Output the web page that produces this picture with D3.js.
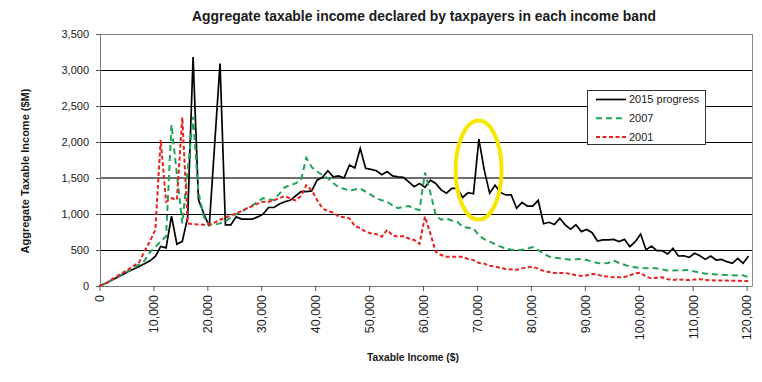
<!DOCTYPE html>
<html><head><meta charset="utf-8">
<script src="https://cdn.jsdelivr.net/npm/d3@7"></script>
<style>
body{margin:0;background:#fff}
text{font-family:"Liberation Sans",Arial,sans-serif;fill:#1a1a1a}
</style>
</head><body>
<svg id="c" width="762" height="382"></svg>
<script>
// ---- data (values in $M, one point per $1,000 income band) ----
const bandOffset = 350; // points sit slightly inside each band
const incomes = d3.range(0, 121).map(i => i === 0 ? 0 : i * 1000 + bandOffset);
const series2015 = [0,45,85,120,160,200,235,270,310,350,
  410,550,530,970,580,620,950,3180,1200,1000,
  830,1960,3090,850,850,960,930,930,930,960,
  1000,1090,1090,1140,1170,1190,1250,1310,1310,1320,
  1470,1510,1600,1515,1530,1500,1680,1640,1910,1635,
  1620,1600,1545,1590,1530,1515,1510,1445,1380,1425,
  1370,1470,1425,1335,1290,1355,1355,1230,1295,1280,
  2040,1610,1290,1400,1300,1265,1265,1080,1160,1110,
  1110,1190,865,885,855,940,850,790,850,755,
  785,740,625,640,640,648,616,648,546,616,
  722,500,555,491,490,444,523,417,420,398,
  454,420,370,417,361,370,338,315,384,315,417];
const series2007 = [0,40,90,130,170,210,250,300,350,470,
  540,620,690,2240,1550,870,1600,2350,1300,960,
  850,850,870,900,950,1000,1030,1080,1120,1170,
  1220,1200,1195,1280,1370,1400,1425,1470,1780,1650,
  1590,1540,1495,1430,1370,1350,1325,1340,1355,1310,
  1265,1220,1190,1170,1120,1080,1100,1110,1070,1055,
  1575,1300,985,920,935,910,893,820,810,800,
  700,650,616,580,546,520,505,500,505,520,
  540,500,450,410,395,384,375,365,370,375,
  360,340,320,315,320,355,320,295,270,260,
  250,245,245,245,230,215,215,218,220,222,
  200,185,170,167,160,155,153,150,145,150,120];
const series2001 = [0,45,95,140,185,230,280,330,480,620,
  780,2030,1170,1220,1200,2340,870,860,855,850,
  860,880,920,950,980,1010,1040,1080,1110,1145,
  1170,1170,1190,1220,1250,1215,1190,1250,1400,1330,
  1195,1080,1040,1020,965,955,940,835,800,755,
  730,720,685,780,700,685,695,660,640,585,
  965,730,475,430,405,405,405,405,375,360,
  320,310,280,270,250,235,230,225,245,260,
  265,240,210,195,180,180,180,170,150,140,
  150,165,160,135,130,120,120,125,150,175,
  185,130,106,115,120,95,85,90,85,83,
  90,93,85,80,78,76,75,74,72,70,65];
const seriesNames = ["2015 progress", "2007", "2001"];
const yTicks = [0, 500, 1000, 1500, 2000, 2500, 3000, 3500];
const xTicks = [0, 10000, 20000, 30000, 40000, 50000, 60000, 70000, 80000, 90000, 100000, 110000, 120000];
const highlight = {income: 70300, value: 1610};
const chartTitle = "Aggregate taxable income declared by taxpayers in each income band";
const xTitle = "Taxable Income ($)";
const yTitle = "Aggregate Taxable Income ($M)";

// ---- styles ----
const styles = [
  {color: "#000000", width: 1.7, dash: null},
  {color: "#22a35a", width: 2, dash: "6,4"},
  {color: "#e8211d", width: 2, dash: "4,2.5"}
];

const svg = d3.select("#c");
svg.append("rect").attr("width", 762).attr("height", 382).attr("fill", "#fff");

const L = 100, R = 752, T = 34, B = 286;
const x = d3.scaleLinear().domain([0, 121000]).range([L - 0.5, R]);
const y = d3.scaleLinear().domain([0, 3500]).range([B, T]);
const fmt = d3.format(",");

// gridlines
svg.append("g").selectAll("line").data(yTicks.filter(v => v > 0 && v < 3500)).join("line")
  .attr("x1", L).attr("x2", R).attr("y1", d => y(d)).attr("y2", d => y(d))
  .attr("stroke", d => d === 1500 ? "#6e6e6e" : "#000")
  .attr("stroke-width", d => d === 1500 ? 1.8 : 1)
  .attr("shape-rendering", "crispEdges");

// plot border top/right
svg.append("line").attr("x1", L).attr("x2", R).attr("y1", T).attr("y2", T)
  .attr("stroke", "#8a8a8a").attr("shape-rendering", "crispEdges");
svg.append("line").attr("x1", R).attr("x2", R).attr("y1", T).attr("y2", B)
  .attr("stroke", "#8a8a8a").attr("shape-rendering", "crispEdges");

// y axis
const yAxis = svg.append("g").attr("transform", `translate(${L},0)`)
  .call(d3.axisLeft(y).tickValues(yTicks).tickFormat(fmt).tickSize(4).tickPadding(7));
yAxis.select(".domain").attr("stroke", "#7a7a7a");
yAxis.selectAll(".tick line").attr("stroke", "#555");
yAxis.selectAll("text").attr("font-size", 11).attr("fill", "#222")
  .style("font-family", "'Liberation Sans', Arial, sans-serif");

// x axis
const xAxis = svg.append("g").attr("transform", `translate(0,${B})`)
  .call(d3.axisBottom(x).tickValues(xTicks).tickFormat(fmt).tickSize(5).tickSizeOuter(0));
xAxis.select(".domain").attr("stroke", "#7a7a7a");
xAxis.selectAll(".tick line").attr("stroke", "#555");
xAxis.selectAll("text")
  .attr("font-size", 12.5).attr("fill", "#222")
  .style("font-family", "'Liberation Sans', Arial, sans-serif")
  .attr("text-anchor", "end")
  .attr("x", -9).attr("y", 0).attr("dy", "0.35em")
  .attr("transform", "rotate(-90)");

// lines
const allSeries = [series2015, series2007, series2001];
const line = d3.line().x((d, i) => x(incomes[i])).y(d => y(d));
allSeries.forEach((s, k) => {
  svg.append("path").datum(s).attr("d", line)
    .attr("fill", "none")
    .attr("stroke", styles[k].color)
    .attr("stroke-width", styles[k].width)
    .attr("stroke-dasharray", styles[k].dash)
    .attr("stroke-linejoin", "miter");
});

// highlight ellipse
svg.append("ellipse")
  .attr("cx", x(highlight.income)).attr("cy", y(highlight.value))
  .attr("rx", 23).attr("ry", 49.5)
  .attr("fill", "none").attr("stroke", "#f7e600").attr("stroke-width", 4);

// legend
const lg = svg.append("g");
lg.append("rect").attr("x", 587.5).attr("y", 90.5).attr("width", 118).attr("height", 54)
  .attr("fill", "#fff").attr("stroke", "#333").attr("stroke-width", 1);
seriesNames.forEach((name, k) => {
  const yy = 99.5 + k * 18.7;
  lg.append("line").attr("x1", 596).attr("x2", 626).attr("y1", yy).attr("y2", yy)
    .attr("stroke", styles[k].color).attr("stroke-width", styles[k].width)
    .attr("stroke-dasharray", styles[k].dash);
  lg.append("text").attr("x", 629).attr("y", yy).attr("dy", "0.35em")
    .attr("font-size", 11).text(name);
});

// titles
svg.append("text").attr("x", 424).attr("y", 20.5).attr("text-anchor", "middle")
  .attr("font-size", 13.9).attr("font-weight", "bold").text(chartTitle);
svg.append("text").attr("x", 413).attr("y", 361).attr("text-anchor", "middle")
  .attr("font-size", 10.3).attr("font-weight", "bold").text(xTitle);
svg.append("text").attr("transform", "translate(29,171) rotate(-90)")
  .attr("text-anchor", "middle").attr("font-size", 11).attr("font-weight", "bold")
  .text(yTitle);
</script>
</body></html>
